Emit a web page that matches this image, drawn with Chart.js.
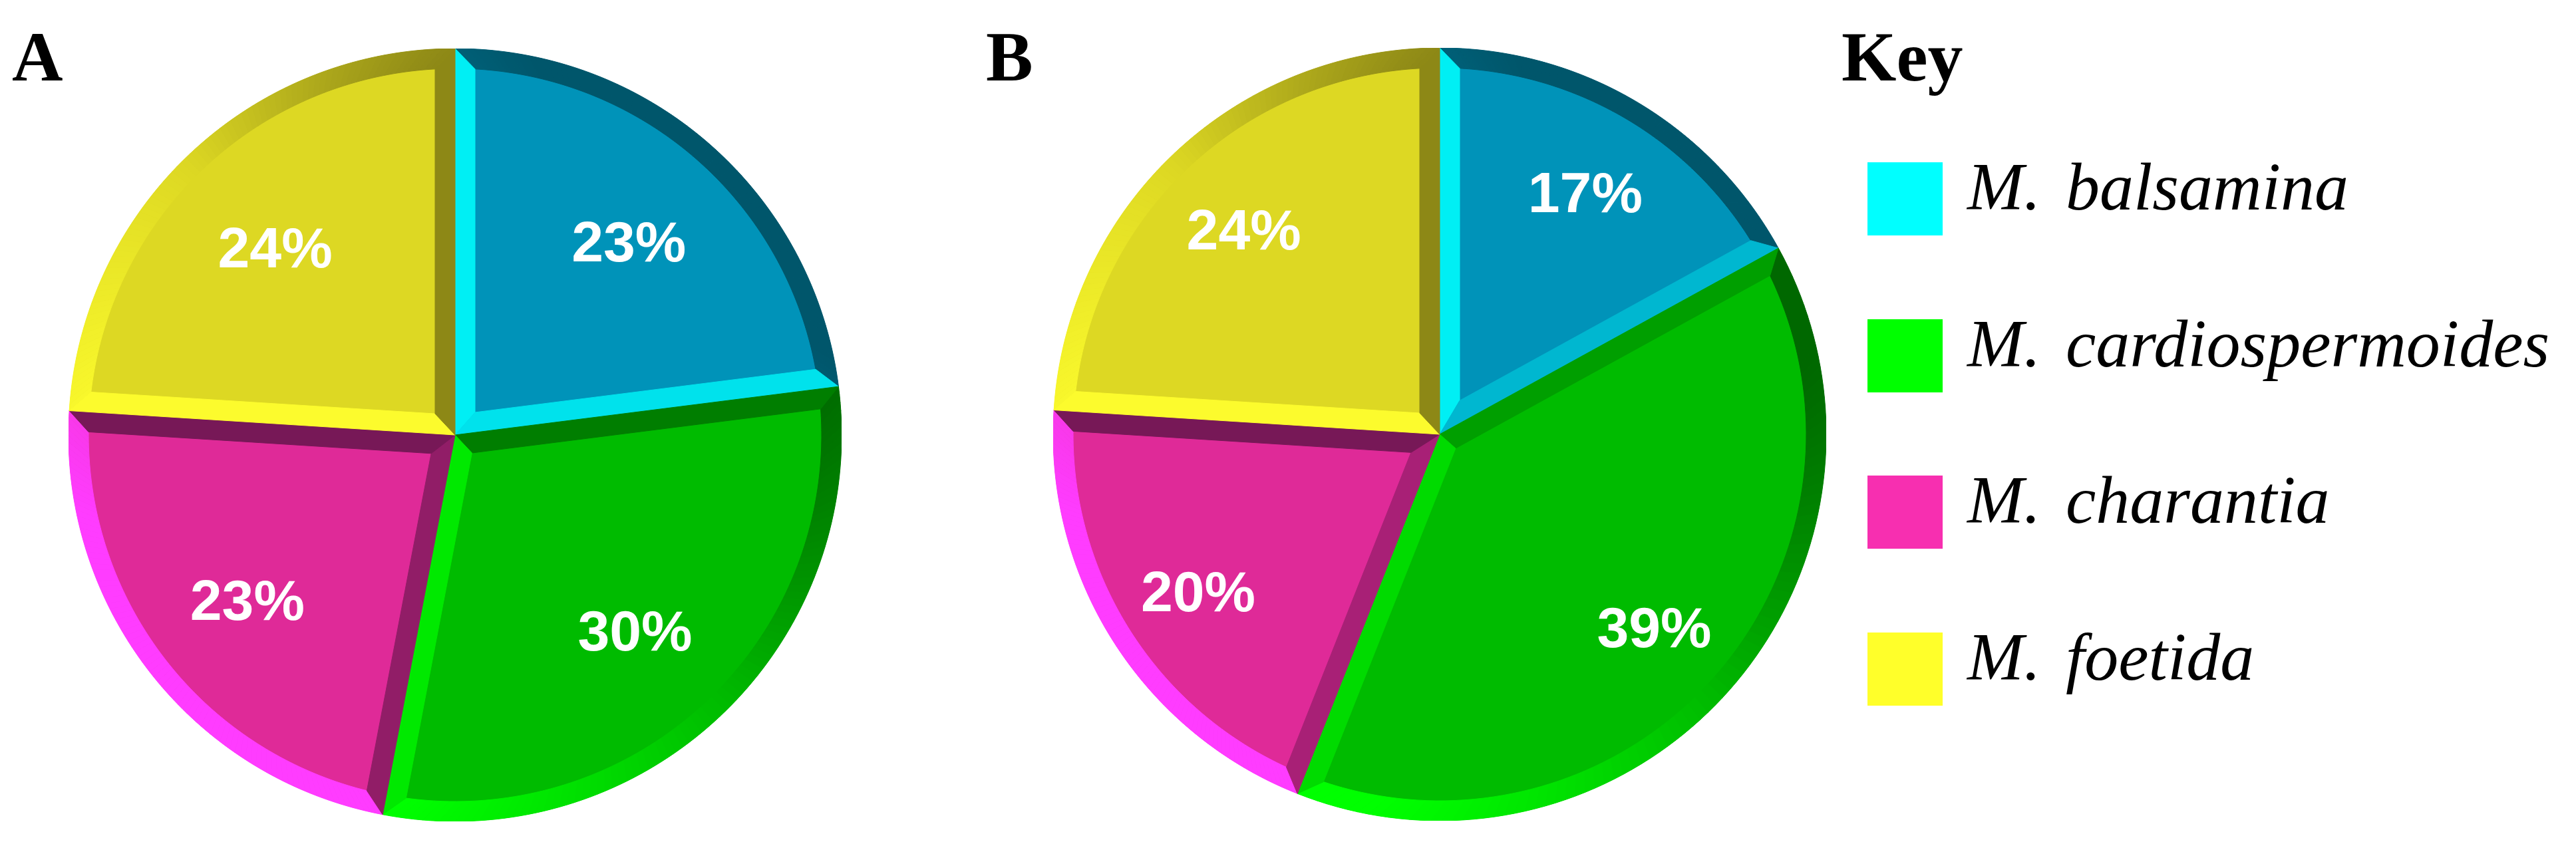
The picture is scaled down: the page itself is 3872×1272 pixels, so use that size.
<!DOCTYPE html>
<html>
<head>
<title>Momordica pie charts</title>
<script src="https://cdn.jsdelivr.net/npm/chart.js@4.4.0/dist/chart.umd.min.js"></script>
<style>
  html,body{
    margin: 0;
    padding: 0;
    width: 3872px;
    height: 1272px;
    background: #fff;
    overflow: hidden;
  }
  .box{
    position: absolute;
    width: 1162px;
    height: 1162px;
  }
  #boxA{ left: 103px; top: 73px; }
  #boxB{ left: 1583px; top: 72px; }
  .tag{
    position: absolute;
    top: 33px;
    font-family: "Liberation Serif", "Times New Roman", serif;
    font-weight: bold;
    font-size: 106px;
    line-height: 106px;
    color: #000;
  }
  #legend{
    position: absolute;
    left: 2807px;
    top: 244px;
  }
  .row{
    position: absolute;
    left: 0;
    width: 1060px;
    height: 110px;
  }
  .sw{
    position: absolute;
    left: 0;
    top: 0;
    width: 113px;
    height: 110px;
  }
  .nm{
    position: absolute;
    left: 150px;
    top: -14px;
    font-family: "Liberation Serif", "Times New Roman", serif;
    font-style: italic;
    font-size: 102px;
    line-height: 102px;
    word-spacing: 12px;
    white-space: nowrap;
    color: #000;
  }
</style>
</head>
<body>
  <div class="tag" style="left:18px">A</div>
  <div class="tag" style="left:1482px">B</div>
  <div class="tag" style="left:2768px">Key</div>

  <div class="box" id="boxA"><canvas id="pieA"></canvas></div>
  <div class="box" id="boxB"><canvas id="pieB"></canvas></div>
  <div id="legend"></div>

<script>
  const species = ['M. balsamina', 'M. cardiospermoides', 'M. charantia', 'M. foetida']
  const valuesA = [23, 30, 23, 24]
  const valuesB = [17, 39, 20, 24]

  const fillColors  = ['#0093b9', '#00bb00', '#df2a98', '#ddd823']
  const lightColors = ['#00ffff', '#00ff00', '#ff3cff', '#ffff2e']
  const darkColors  = ['#00566b', '#006800', '#6c1650', '#7f7a14']
  const keyColors   = ['#00ffff', '#00ff00', '#f72fb0', '#ffff2a']

  function hexToRgb(h){
    const n = parseInt(h.slice(1), 16)
    return [n >> 16 & 255, n >> 8 & 255, n & 255]
  }
  function mix(a, b, t){
    const A = hexToRgb(a), B = hexToRgb(b)
    return 'rgb(' + A.map((v, i) => Math.round(v + (B[i] - v) * t)).join(',') + ')'
  }
  // light comes from lower left
  function shade(i, nx, ny){
    const t = (-nx + ny) / Math.SQRT2
    const k = Math.min(1, Math.abs(t) * 1.2)
    return t > 0 ? mix(fillColors[i], lightColors[i], k) : mix(fillColors[i], darkColors[i], k)
  }

  const bevelPlugin = {
    id: 'bevel',
    afterDatasetsDraw(chart, args, opts){
      const ctx = chart.ctx
      const w = opts.width
      chart.getDatasetMeta(0).data.forEach((arc, i) => {
        const {x, y, startAngle: s, endAngle: e, outerRadius: r} =
          arc.getProps(['x', 'y', 'startAngle', 'endAngle', 'outerRadius'], true)
        const half = (e - s) / 2
        const d = w / Math.sin(half)
        const p0 = [x + Math.cos(s + half) * d, y + Math.sin(s + half) * d]
        const ri = r - w
        const a = Math.asin(w / ri)
        const pt = (ang, rad) => [x + Math.cos(ang) * rad, y + Math.sin(ang) * rad]
        const poly = (pts, col) => {
          ctx.beginPath()
          pts.forEach((p, k) => k ? ctx.lineTo(p[0], p[1]) : ctx.moveTo(p[0], p[1]))
          ctx.closePath()
          ctx.fillStyle = col
          ctx.strokeStyle = col
          ctx.lineWidth = 1
          ctx.fill()
          ctx.stroke()
        }
        ctx.save()
        const n = 90
        for (let k = 0; k < n; k++){
          const o1 = s + (e - s) * k / n, o2 = s + (e - s) * (k + 1) / n
          const i1 = s + a + (e - s - 2 * a) * k / n, i2 = s + a + (e - s - 2 * a) * (k + 1) / n
          const m = (o1 + o2) / 2
          poly([pt(o1, r), pt(o2, r), pt(i2, ri), pt(i1, ri)], shade(i, Math.cos(m), Math.sin(m)))
        }
        poly([[x, y], pt(s, r), pt(s + a, ri), p0],
          shade(i, Math.cos(s - Math.PI / 2), Math.sin(s - Math.PI / 2)))
        poly([[x, y], p0, pt(e - a, ri), pt(e, r)],
          shade(i, Math.cos(e + Math.PI / 2), Math.sin(e + Math.PI / 2)))
        ctx.restore()
      })
    }
  }

  const labelPlugin = {
    id: 'sliceLabels',
    afterDatasetsDraw(chart, args, opts){
      const ctx = chart.ctx
      const data = chart.data.datasets[0].data
      chart.getDatasetMeta(0).data.forEach((arc, i) => {
        const {x, y, startAngle, endAngle, outerRadius} =
          arc.getProps(['x', 'y', 'startAngle', 'endAngle', 'outerRadius'], true)
        const m = (startAngle + endAngle) / 2
        ctx.save()
        ctx.font = 'bold 86px "Liberation Sans", Arial, sans-serif'
        ctx.fillStyle = '#fff'
        ctx.textAlign = 'center'
        ctx.textBaseline = 'middle'
        ctx.fillText(data[i] + '%', x + Math.cos(m) * outerRadius * opts.radius, y + Math.sin(m) * outerRadius * opts.radius + 12)
        ctx.restore()
      })
    }
  }

  function drawPie(id, values, labelRadius){
    new Chart(document.getElementById(id), {
      type: 'pie',
      data: {
        labels: species,
        datasets: [{
          data: values,
          backgroundColor: fillColors,
          borderWidth: 0,
          hoverOffset: 0,
        }]
      },
      options: {
        responsive: true,
        maintainAspectRatio: false,
        animation: false,
        events: [],
        layout: { padding: 0 },
        plugins: {
          legend: { display: false },
          tooltip: { enabled: false },
          bevel: { width: 30 },
          sliceLabels: { radius: labelRadius },
        }
      },
      plugins: [bevelPlugin, labelPlugin]
    })
  }

  drawPie('pieA', valuesA, 0.68)
  drawPie('pieB', valuesB, 0.74)

  // shared key
  const legend = document.getElementById('legend')
  species.forEach((name, i) => {
    const row = document.createElement('div')
    row.className = 'row'
    row.style.top = (i * 235.7) + 'px'
    row.innerHTML = `<span class="sw" style="background:${keyColors[i]}"></span><span class="nm">${name}</span>`
    legend.append(row)
  })
</script>
</body>
</html>
